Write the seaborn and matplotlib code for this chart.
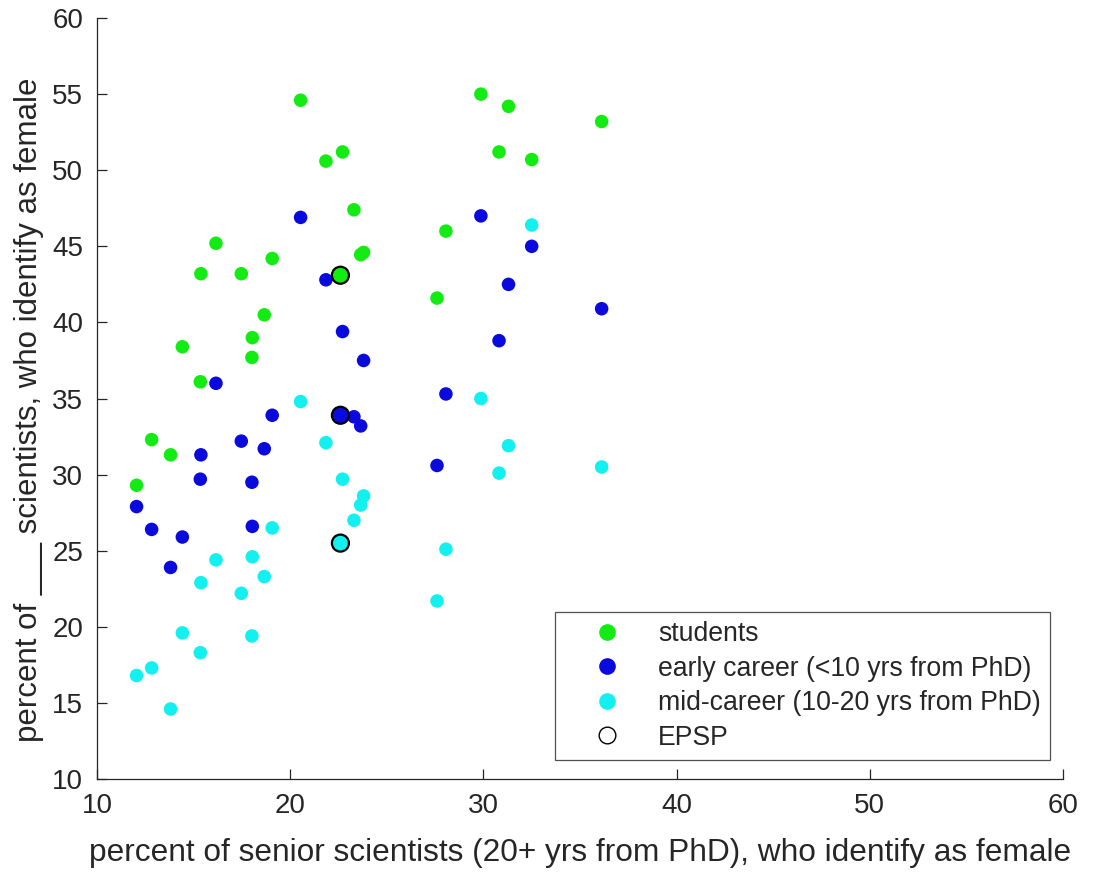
import numpy as np
import pandas as pd
import matplotlib
matplotlib.use("Agg")
import matplotlib.pyplot as plt
from matplotlib.lines import Line2D
import seaborn as sns

# percent of senior scientists (x) shared by the three groups
senior = [12.05, 12.83, 13.81, 14.42, 15.38, 15.35, 16.16, 17.47, 18.04, 18.02,
          18.66, 19.07, 20.54, 21.85, 22.71, 23.30, 23.65, 23.80, 27.60, 28.06,
          29.87, 30.81, 31.30, 32.50, 36.12]
students = [29.3, 32.3, 31.3, 38.4, 43.2, 36.1, 45.2, 43.2, 39.0, 37.7,
            40.5, 44.2, 54.6, 50.6, 51.2, 47.4, 44.45, 44.6, 41.6, 46.0,
            55.0, 51.2, 54.2, 50.7, 53.2]
early = [27.9, 26.4, 23.9, 25.9, 31.3, 29.7, 36.0, 32.2, 26.6, 29.5,
         31.7, 33.9, 46.9, 42.8, 39.4, 33.8, 33.2, 37.5, 30.6, 35.3,
         47.0, 38.8, 42.5, 45.0, 40.9]
mid = [16.8, 17.3, 14.6, 19.6, 22.9, 18.3, 24.4, 22.2, 24.6, 19.4,
       23.3, 26.5, 34.8, 32.1, 29.7, 27.0, 28.0, 28.6, 21.7, 25.1,
       35.0, 30.1, 31.9, 46.4, 30.5]

# EPSP values (one senior value, three groups)
epsp_senior = 22.6
epsp_values = [43.1, 33.9, 25.5]

groups = ["students", "early career (<10 yrs from PhD)", "mid-career (10-20 yrs from PhD)"]
colors = ["#12ec12", "#0a0adc", "#12f0f0"]

df = pd.DataFrame({
    "senior": senior * 3,
    "value": students + early + mid,
    "group": [groups[0]] * len(senior) + [groups[1]] * len(senior) + [groups[2]] * len(senior),
})
epsp_df = pd.DataFrame({"senior": [epsp_senior] * 3, "value": epsp_values, "group": groups})

sns.set_style("white")
plt.rcParams["font.family"] = ["Liberation Sans", "DejaVu Sans"]

fig = plt.figure(figsize=(10.93, 8.75), dpi=100)
ax = fig.add_axes([0.0887, 0.1097, 0.8839, 0.8697])

palette = dict(zip(groups, colors))
sns.scatterplot(data=df, x="senior", y="value", hue="group", hue_order=groups,
                palette=palette, s=95, edgecolor="none", legend=False, ax=ax)
sns.scatterplot(data=epsp_df, x="senior", y="value", hue="group", hue_order=groups,
                palette=palette, s=150, edgecolor="black", linewidth=1.6,
                legend=False, ax=ax, zorder=3)

ax.set_xlim(10, 60)
ax.set_ylim(10, 60)
ax.set_xticks(range(10, 61, 10))
ax.set_yticks(range(10, 61, 5))

for side in ["top", "right"]:
    ax.spines[side].set_visible(False)
for side in ["left", "bottom"]:
    ax.spines[side].set_color("#262626")
    ax.spines[side].set_linewidth(0.9)

ax.tick_params(direction="in", length=7, width=0.9, colors="#262626",
               labelsize=20, pad=10, left=True, bottom=True)

ax.set_xlabel("percent of senior scientists (20+ yrs from PhD), who identify as female",
              fontsize=22.8, color="#262626", labelpad=14)
ax.set_ylabel("percent of ___ scientists, who identify as female",
              fontsize=22.5, color="#262626")
ax.yaxis.set_label_coords(-0.055, 0.485)

handles = [Line2D([], [], marker="o", linestyle="none", markersize=12,
                  markerfacecolor=c, markeredgecolor="none") for c in colors]
handles.append(Line2D([], [], marker="o", linestyle="none", markersize=12,
                      markerfacecolor="white", markeredgecolor="black", markeredgewidth=1))
leg = ax.legend(handles, groups + ["EPSP"], loc="lower right",
                bbox_to_anchor=(0.9865, 0.025), borderaxespad=0, fontsize=19.2,
                frameon=True, fancybox=False, edgecolor="#262626", borderpad=0.35,
                handletextpad=0.3, labelspacing=0.32, handlelength=3.2)
leg.get_frame().set_linewidth(0.9)
for t in leg.get_texts():
    t.set_color("#262626")

fig.savefig("out.png", dpi=100)
